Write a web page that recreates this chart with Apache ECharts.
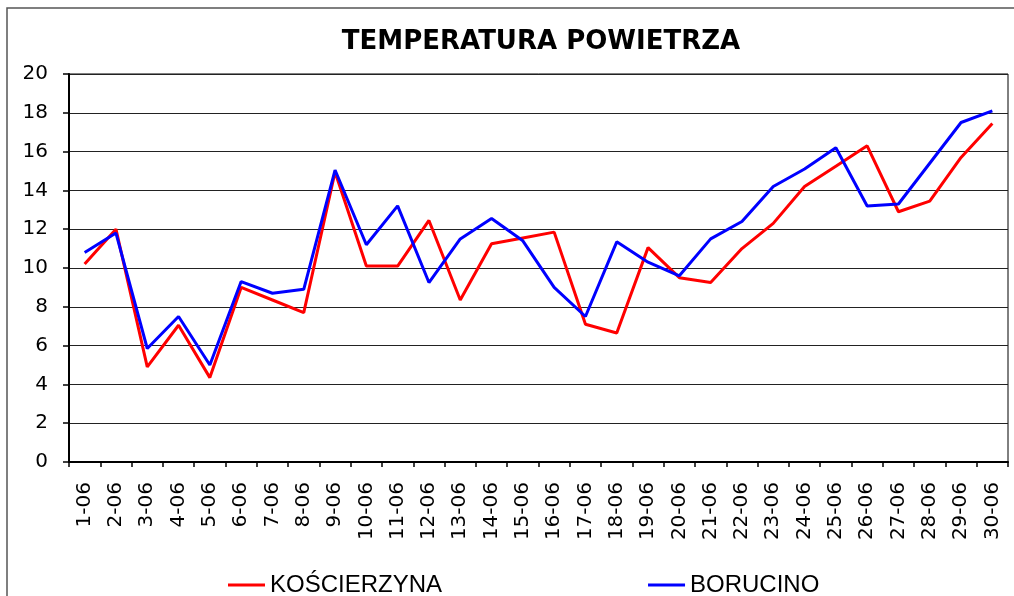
<!DOCTYPE html>
<html lang="pl">
<head>
  <meta charset="UTF-8">
  <title>Temperatura powietrza</title>
  <script src="https://cdn.jsdelivr.net/npm/echarts@6/dist/echarts.min.js"></script>
  <style>
    body { margin: 0; padding: 0; background: #fff; }
    #chart { width: 1014px; height: 596px; }
  </style>
</head>
<body>
  <div id="chart"></div>
  <script>
    // dni czerwca
    const days = ['1-06', '2-06', '3-06', '4-06', '5-06', '6-06', '7-06', '8-06', '9-06', '10-06',
      '11-06', '12-06', '13-06', '14-06', '15-06', '16-06', '17-06', '18-06', '19-06', '20-06',
      '21-06', '22-06', '23-06', '24-06', '25-06', '26-06', '27-06', '28-06', '29-06', '30-06'];

    // temperatura (°C)
    const koscierzyna = [10.2, 12.0, 4.9, 7.05, 4.35, 9.0, 8.35, 7.7, 14.95, 10.1,
      10.1, 12.45, 8.35, 11.25, 11.55, 11.85, 7.1, 6.65, 11.05, 9.5,
      9.25, 11.0, 12.3, 14.2, 15.25, 16.3, 12.9, 13.45, 15.7, 17.45];
    const borucino = [10.8, 11.8, 5.85, 7.5, 5.0, 9.3, 8.7, 8.9, 15.05, 11.2,
      13.2, 9.25, 11.5, 12.55, 11.4, 9.0, 7.5, 11.35, 10.3, 9.6,
      11.5, 12.4, 14.2, 15.1, 16.2, 13.2, 13.3, 15.4, 17.5, 18.1];

    const chart = echarts.init(document.getElementById('chart'));

    const option = {
      backgroundColor: '#fff',
      animation: false,
      title: {
        text: 'TEMPERATURA POWIETRZA',
        left: 536,
        textAlign: 'center',
        top: 24,
        textStyle: { fontFamily: 'DejaVu Sans', fontWeight: 'bold', fontSize: 26, color: '#000' }
      },
      // ramka wokół całego wykresu
      graphic: [{
        type: 'rect',
        shape: { x: 7, y: 8, width: 1030, height: 620 },
        style: { fill: 'none', stroke: '#555', lineWidth: 1.5 },
        silent: true
      }],
      legend: {
        data: [
          { name: 'KOŚCIERZYNA', icon: 'rect' },
          { name: 'BORUCINO', icon: 'rect' }
        ],
        left: 223,
        top: 568,
        itemWidth: 37,
        itemHeight: 3,
        itemGap: 206,
        textStyle: { fontFamily: 'Liberation Sans', fontSize: 24, color: '#000' }
      },
      grid: {
        left: 69,
        right: 6,
        top: 74,
        bottom: 134,
        show: true,
        borderColor: '#000',
        borderWidth: 1
      },
      xAxis: {
        type: 'category',
        data: days,
        boundaryGap: true,
        axisLine: { lineStyle: { color: '#000', width: 2 } },
        axisTick: { show: true, length: 5, lineStyle: { color: '#000', width: 1.5 } },
        axisLabel: {
          rotate: 90,
          interval: 0,
          margin: 20,
          fontFamily: 'DejaVu Sans',
          fontSize: 20,
          color: '#000'
        }
      },
      yAxis: {
        type: 'value',
        min: 0,
        max: 20,
        interval: 2,
        axisLine: { show: true, lineStyle: { color: '#000', width: 2 } },
        axisTick: { show: true, length: 6, lineStyle: { color: '#000', width: 1.5 } },
        axisLabel: {
          margin: 21,
          fontFamily: 'DejaVu Sans',
          fontSize: 20,
          color: '#000'
        },
        splitLine: { lineStyle: { color: '#222', width: 1.2 } }
      },
      series: [
        {
          name: 'KOŚCIERZYNA',
          type: 'line',
          data: koscierzyna,
          symbol: 'none',
          itemStyle: { color: '#ff0000' },
          lineStyle: { color: '#ff0000', width: 3 }
        },
        {
          name: 'BORUCINO',
          type: 'line',
          data: borucino,
          symbol: 'none',
          itemStyle: { color: '#0000ff' },
          lineStyle: { color: '#0000ff', width: 3 }
        }
      ]
    };

    chart.setOption(option);
  </script>
</body>
</html>
